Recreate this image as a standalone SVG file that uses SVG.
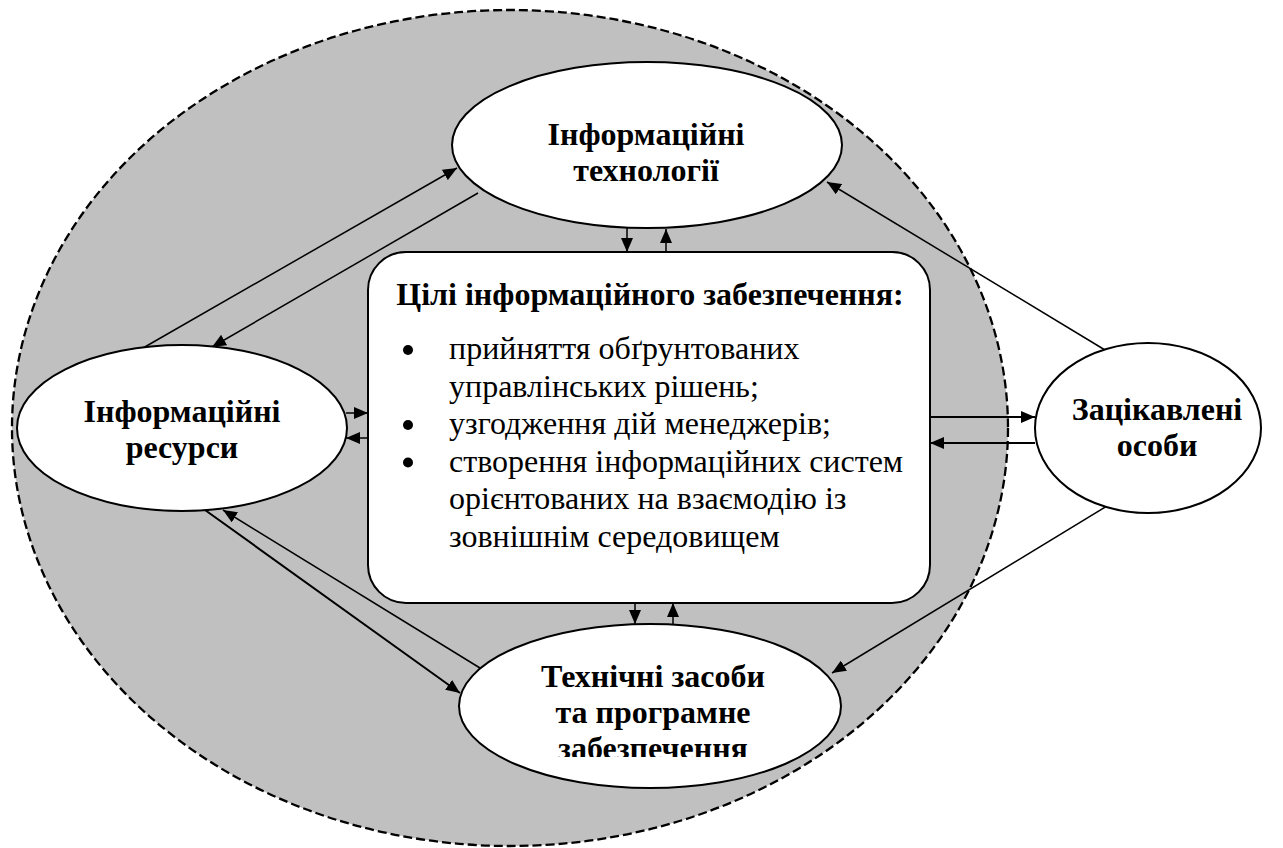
<svg xmlns="http://www.w3.org/2000/svg" width="1283" height="848" viewBox="0 0 1283 848">
<style>
.node{fill:#fff;stroke:#000;stroke-width:2}
.t{font-family:"Liberation Serif","Times New Roman",serif;font-size:32px;fill:#000}
.b{font-weight:bold}
.c{text-anchor:middle}
.ln{stroke:#000;stroke-width:1.5;fill:none}
.ln2{stroke:#000;stroke-width:2;fill:none}
</style>
<defs>
<marker id="ah" viewBox="0 0 14 12" refX="14" refY="6" markerWidth="14" markerHeight="12" markerUnits="userSpaceOnUse" orient="auto">
<path d="M0,0 L14,6 L0,12 z" fill="#000"/>
</marker>
<clipPath id="clipBottom"><rect x="440" y="620" width="420" height="137"/></clipPath>
</defs>
<rect width="1283" height="848" fill="#fff"/>
<ellipse id="boundary" cx="510" cy="428" rx="498" ry="418" fill="#C0C0C0" stroke="#000" stroke-width="2.3" stroke-dasharray="9,4"/>
<g id="connectors">
<line class="ln" x1="143" y1="348" x2="457" y2="168" marker-end="url(#ah)"/>
<line class="ln" x1="478" y1="193" x2="212" y2="347" marker-end="url(#ah)"/>
<line class="ln" x1="1105" y1="350" x2="827" y2="182" marker-end="url(#ah)"/>
<line class="ln" x1="1107" y1="506" x2="832" y2="673" marker-end="url(#ah)"/>
<line class="ln2" x1="205" y1="510" x2="460" y2="693" marker-end="url(#ah)"/>
<line class="ln" x1="480" y1="668" x2="223" y2="510" marker-end="url(#ah)"/>
<line class="ln" x1="627" y1="228" x2="627" y2="252" marker-end="url(#ah)"/>
<line class="ln" x1="666" y1="252" x2="666" y2="229" marker-end="url(#ah)"/>
<line class="ln" x1="635" y1="603" x2="635" y2="624" marker-end="url(#ah)"/>
<line class="ln" x1="673" y1="624" x2="673" y2="603" marker-end="url(#ah)"/>
<line class="ln" x1="346" y1="413" x2="368" y2="413" marker-end="url(#ah)"/>
<line class="ln" x1="368" y1="438" x2="346" y2="438" marker-end="url(#ah)"/>
<line class="ln2" x1="930" y1="417" x2="1035" y2="417" marker-end="url(#ah)"/>
<line class="ln2" x1="1035" y1="443" x2="930" y2="443" marker-end="url(#ah)"/>
</g>
<g id="node-tech">
<ellipse class="node" cx="647" cy="145" rx="195" ry="83"/>
<text class="t b c" x="646" y="145">Інформаційні</text>
<text class="t b c" x="646" y="181">технології</text>
</g>
<g id="node-resources">
<ellipse class="node" cx="182" cy="428" rx="165" ry="83"/>
<text class="t b c" x="182" y="422">Інформаційні</text>
<text class="t b c" x="182" y="458">ресурси</text>
</g>
<g id="node-stakeholders">
<ellipse class="node" cx="1148" cy="428" rx="113" ry="85"/>
<text class="t b c" x="1157" y="420">Зацікавлені</text>
<text class="t b c" x="1157" y="456">особи</text>
</g>
<g id="node-hardware">
<ellipse class="node" cx="650" cy="706" rx="191" ry="82"/>
<g clip-path="url(#clipBottom)">
<text class="t b c" x="653" y="687">Технічні засоби</text>
<text class="t b c" x="653" y="723">та програмне</text>
<text class="t b c" x="653" y="759">забезпечення</text>
</g>
</g>
<g id="node-goals">
<rect class="node" x="368" y="252" width="562" height="351" rx="38" ry="38"/>
<text class="t b c" x="650" y="305">Цілі інформаційного забезпечення:</text>
<circle cx="408" cy="350" r="5"/>
<text class="t" x="449" y="359">прийняття обґрунтованих</text>
<text class="t" x="449" y="396.5">управлінських рішень;</text>
<circle cx="408" cy="425" r="5"/>
<text class="t" x="449" y="434">узгодження дій менеджерів;</text>
<circle cx="408" cy="462.5" r="5"/>
<text class="t" x="449" y="471.5">створення інформаційних систем</text>
<text class="t" x="449" y="509">орієнтованих на взаємодію із</text>
<text class="t" x="449" y="546.5">зовнішнім середовищем</text>
</g>
</svg>
